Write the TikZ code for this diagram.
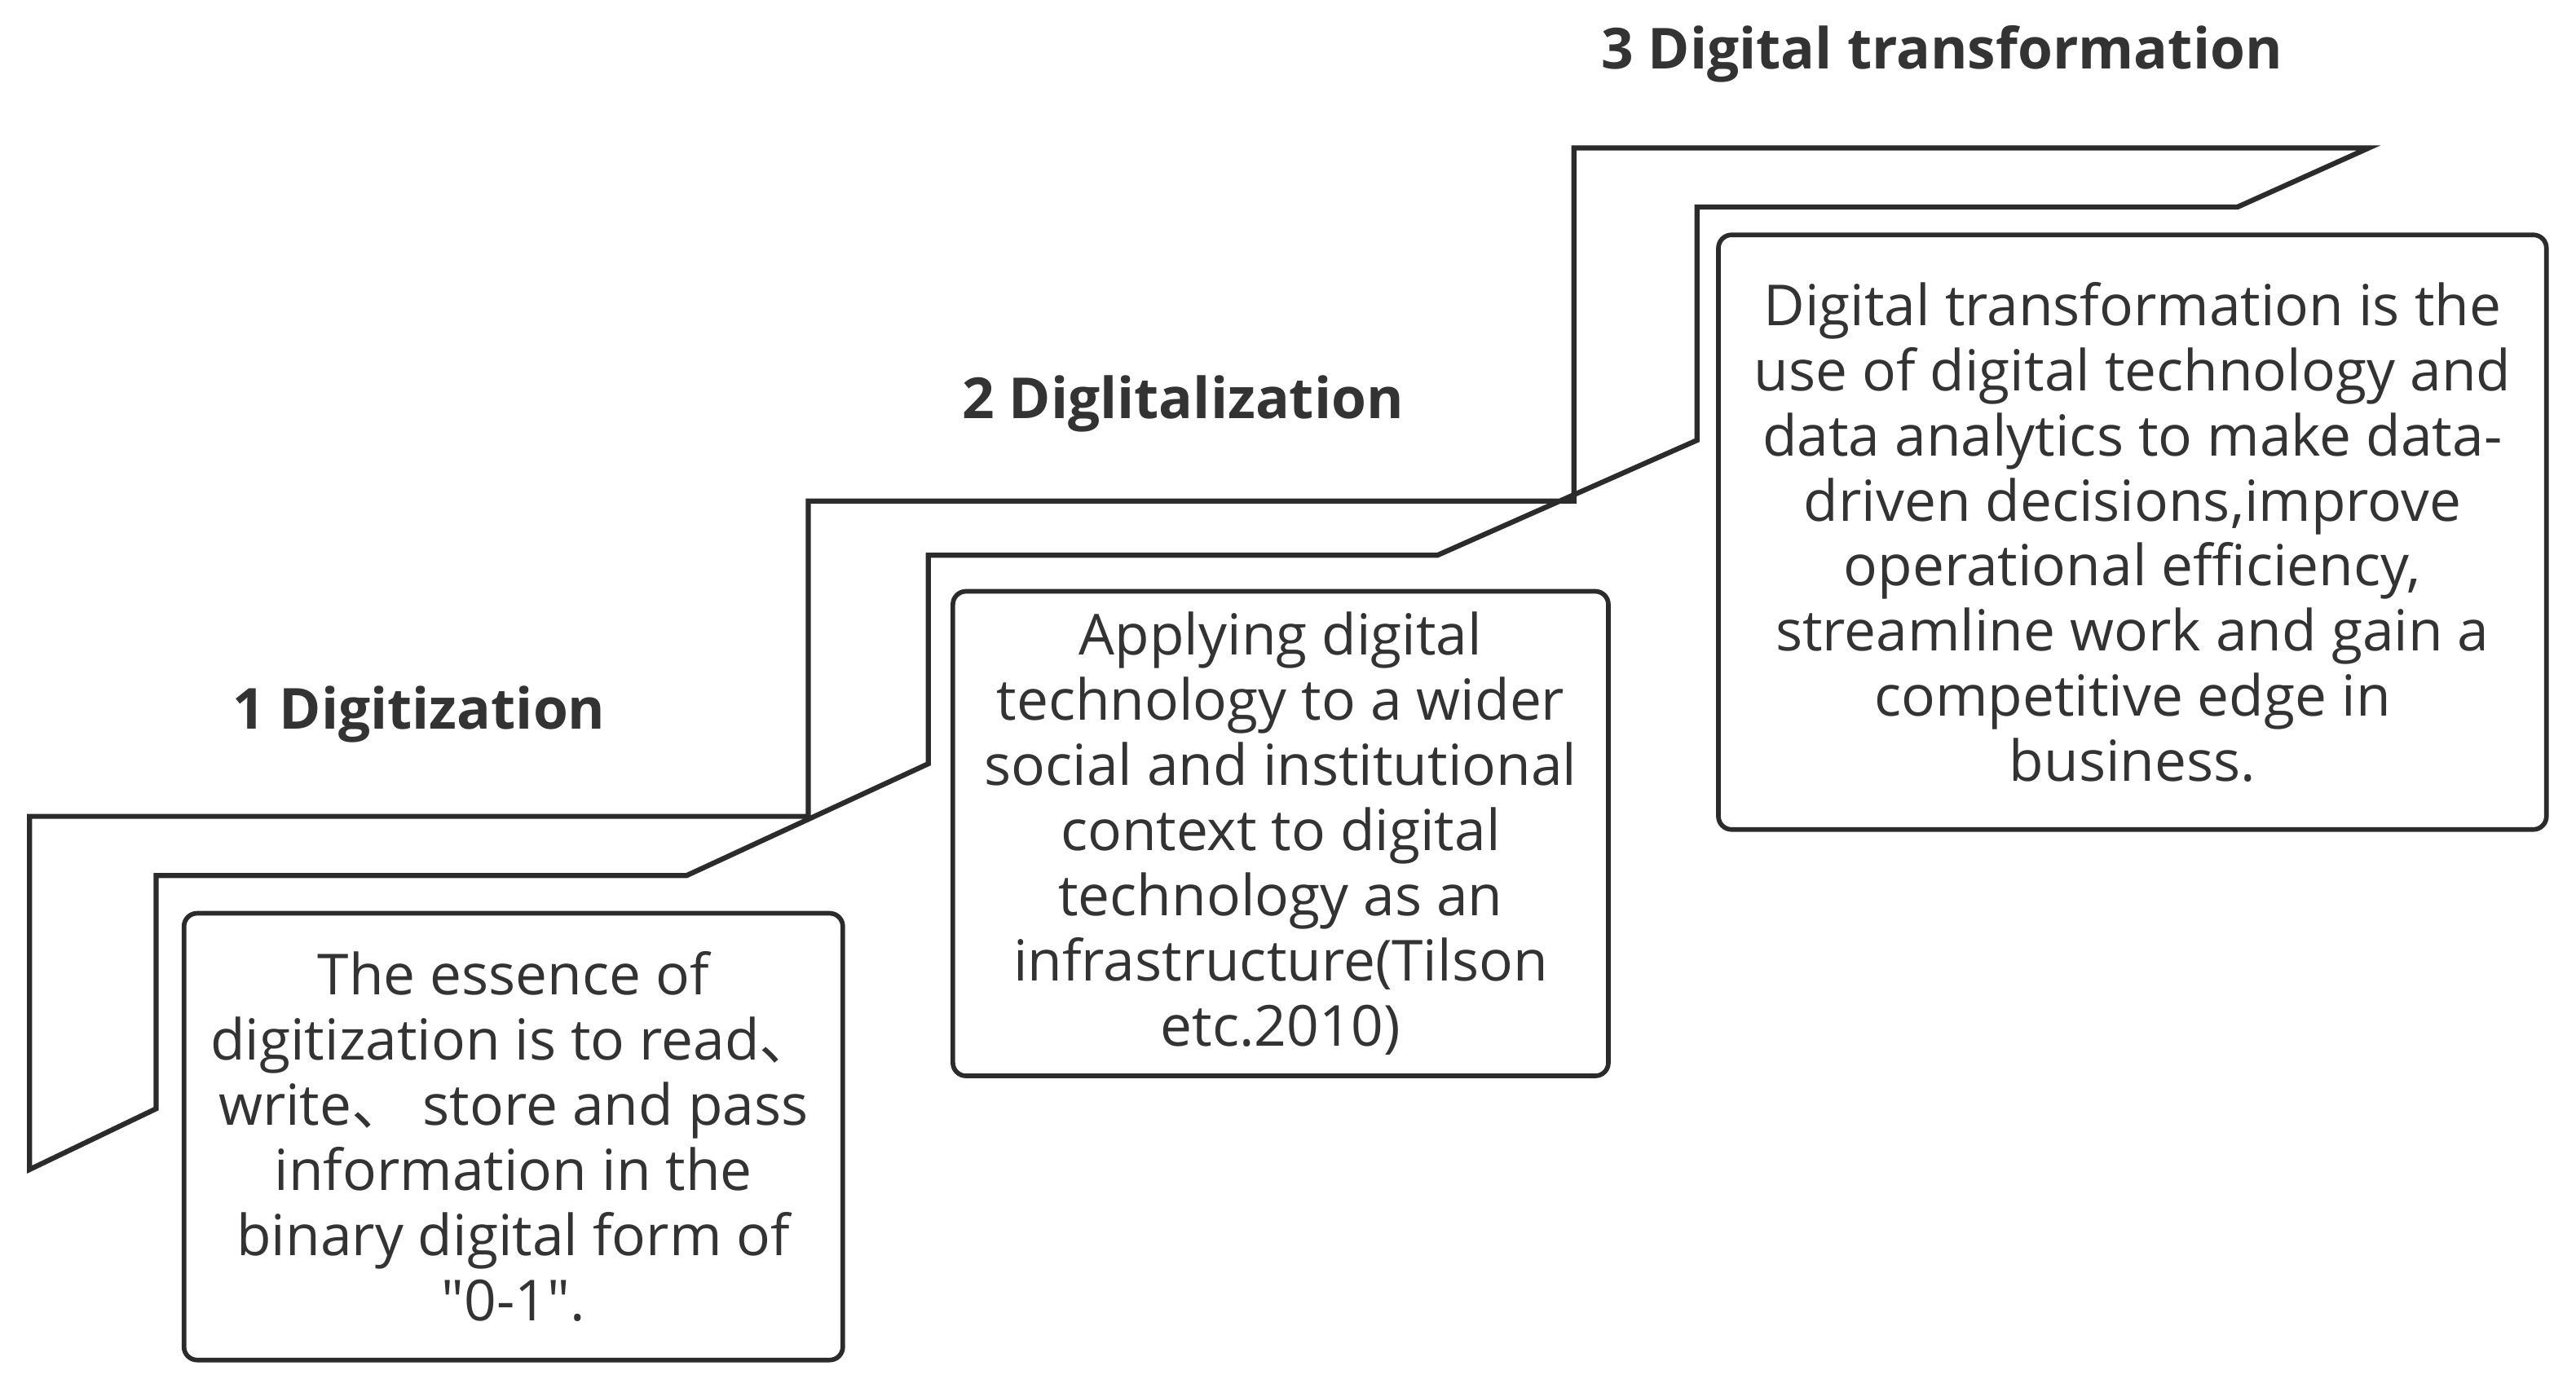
\documentclass[tikz,border=0pt]{standalone}
\usepackage{fontspec}
\setmainfont{Open Sans}
\newfontfamily\qfont{Open Sans}[Ligatures=TeXOff]
\newfontfamily\cjk{Noto Sans CJK SC}
\begin{document}
\begin{tikzpicture}[x=0.25mm,y=-0.25mm]
\definecolor{ink}{HTML}{2B2B2B}
\definecolor{txt}{HTML}{333333}
\tikzset{
  stair/.style={draw=ink, line width=2.2pt, line join=miter},
  infobox/.style={draw=ink, line width=2pt, rounded corners=2mm, align=center,
    text=txt, inner sep=0pt, font=\fontsize{24.5}{28.2}\selectfont},
  title/.style={text=txt, font=\fontsize{24.5}{28}\selectfont\bfseries, inner sep=0pt}
}
\useasboundingbox (0,0) rectangle (1568,845);
\fill[white] (0,0) rectangle (1568,845);
% staircase band
\draw[stair] (18,712) -- (18,497) -- (492,497) -- (492,305) -- (958,305) -- (958,90)
  -- (1442,90) -- (1362,126) -- (1033,126) -- (1033,268) -- (875,338) -- (565,338)
  -- (565,465) -- (418,533) -- (95,533) -- (95,675) -- cycle;
% titles
\node[title] (t1) at (255,435) {1 Digitization};
\node[title] (t2) at (720,246) {2 Diglitalization};
\node[title] (t3) at (1182,33) {3 Digital transformation};
% boxes
\node[infobox, minimum width=401*0.25mm, minimum height=272*0.25mm] (b1) at (312.5,692)
  {The essence of\\digitization is to read{\cjk 、}\\write{\cjk 、} store and pass\\information in the\\binary digital form of\\{\qfont "0-1"}.};
\node[infobox, minimum width=399*0.25mm, minimum height=295*0.25mm] (b2) at (779.5,507.5)
  {Applying digital\\technology to a wider\\social and institutional\\context to digital\\technology as an\\infrastructure(Tilson\\etc.2010)};
\node[infobox, minimum width=504*0.25mm, minimum height=362*0.25mm] (b3) at (1298,324)
  {Digital transformation is the\\use of digital technology and\\data analytics to make data-\\driven decisions,improve\\operational efficiency,\\streamline work and gain a\\competitive edge in\\business.};
\end{tikzpicture}
\end{document}
